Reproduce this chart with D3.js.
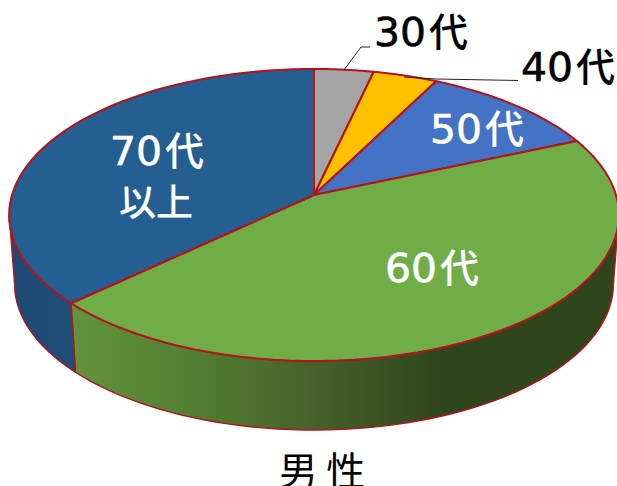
<!DOCTYPE html>
<html><head><meta charset="utf-8">
<script src="https://cdnjs.cloudflare.com/ajax/libs/d3/7.8.5/d3.min.js"></script>
<style>html,body{margin:0;padding:0;background:#fff}svg{display:block}</style>
</head><body><svg id="c" width="617" height="486"></svg>
<script>
const categories = ["30代","40代","50代","60代","70代 以上"];
const values = [3.6,3.9,11,44.5,37];
const topColors = ["#a5a5a5","#ffc000","#4472c4","#70ad47","#255e91"];
const title = "男 性";

const svg = d3.select("#c");
const cx = 314, cy = 195, R = 302, S = 143.3, k = 0.137, depth = 69, shrink = 0.982;
const stroke = "#b5121b";

const pie = d3.pie().sort(null).value(d=>d)(values);
const pt = (a, side) => {
  const u = Math.sin(a), v = Math.cos(a), w = 1 + k*v;
  const x = R*u/w, y = -S*v/w;
  return side ? [cx + x*shrink, cy + y + depth] : [cx + x, cy + y];
};
const samples = (a0,a1,side) => d3.range(0,61).map(i=>pt(a0+(a1-a0)*i/60,side));
const line = d3.line();

const defs = svg.append("defs");
const g1 = defs.append("linearGradient").attr("id","gs").attr("gradientUnits","userSpaceOnUse")
  .attr("x1",72).attr("x2",617).attr("y1",0).attr("y2",0);
[[0,"#62933c"],[0.22,"#537f32"],[0.44,"#46622a"],[0.68,"#2f451c"],[1,"#2f451c"]].forEach(s=>g1.append("stop").attr("offset",s[0]).attr("stop-color",s[1]));
const g2 = defs.append("linearGradient").attr("id","gb").attr("gradientUnits","userSpaceOnUse")
  .attr("x1",8).attr("x2",76).attr("y1",0).attr("y2",0);
[[0,"#1c4a74"],[1,"#1f4e79"]].forEach(s=>g2.append("stop").attr("offset",s[0]).attr("stop-color",s[1]));

// visible side walls
const aRight = Math.PI/2 + Math.asin(0.137), aLeft = 2*Math.PI - aRight;
const walls = [
  {a0:aRight, a1:pie[3].endAngle, fill:"url(#gs)"},
  {a0:pie[3].endAngle, a1:aLeft, fill:"url(#gb)"}
];
svg.selectAll("path.wall").data(walls).join("path").attr("class","wall")
  .attr("d",d=>line(samples(d.a0,d.a1,false).concat(samples(d.a0,d.a1,true).reverse()))+"Z")
  .attr("fill",d=>d.fill).attr("stroke",stroke).attr("stroke-width",1.4).attr("stroke-linejoin","round");

// top face slices
svg.selectAll("path.slice").data(pie).join("path").attr("class","slice")
  .attr("d",d=>line([[cx,cy]].concat(samples(d.startAngle,d.endAngle,false)))+"Z")
  .attr("fill",(d,i)=>topColors[i]).attr("stroke",stroke).attr("stroke-width",2).attr("stroke-linejoin","round");

// leader lines
const leaders = [
  [[344,70],[361,47],[370,47]],
  [[404,77],[436,79],[518,80.5]]
];
svg.selectAll("path.leader").data(leaders).join("path").attr("class","leader")
  .attr("d",line).attr("fill","none").attr("stroke","#222").attr("stroke-width",1);

// labels
const labelLayout = [
  {t:categories[0],x:374,y:46,c:"#000"},
  {t:categories[1],x:521,y:81,c:"#000"},
  {t:categories[2],x:430,y:143,c:"#fff"},
  {t:categories[3],x:385,y:282,c:"#fff"},
  {t:categories[4].split(" ")[0],x:110,y:165,c:"#fff"},
  {t:categories[4].split(" ")[1],x:119,y:216,c:"#fff"}
];
const labs = svg.selectAll("text.lab").data(labelLayout).join("text").attr("class","lab")
  .attr("x",d=>d.x).attr("y",d=>d.y).attr("fill",d=>d.c);
labs.each(function(d){
  const t = d3.select(this);
  const m = d.t.match(/^(\d+)(.*)$/);
  if (m) {
    t.append("tspan").attr("x",d.x).style("font-family",'"DejaVu Sans"').attr("font-size",39)
      .attr("textLength",52).attr("lengthAdjust","spacingAndGlyphs")
      .attr("stroke",d.c).attr("stroke-width",0.6).text(m[1]);
    t.append("tspan").attr("x",d.x+55).style("font-family",'"Noto Sans CJK JP"').style("font-weight",500).attr("font-size",39).text(m[2]);
  } else {
    t.append("tspan").style("font-family",'"Noto Sans CJK JP"').style("font-weight",500).attr("font-size",37).text(d.t);
  }
});

svg.append("text").attr("x",322).attr("y",485).attr("text-anchor","middle")
  .attr("font-size",39).attr("fill","#000").style("font-family",'"Noto Sans CJK JP"').style("font-weight",400).text(title);
</script></body></html>
